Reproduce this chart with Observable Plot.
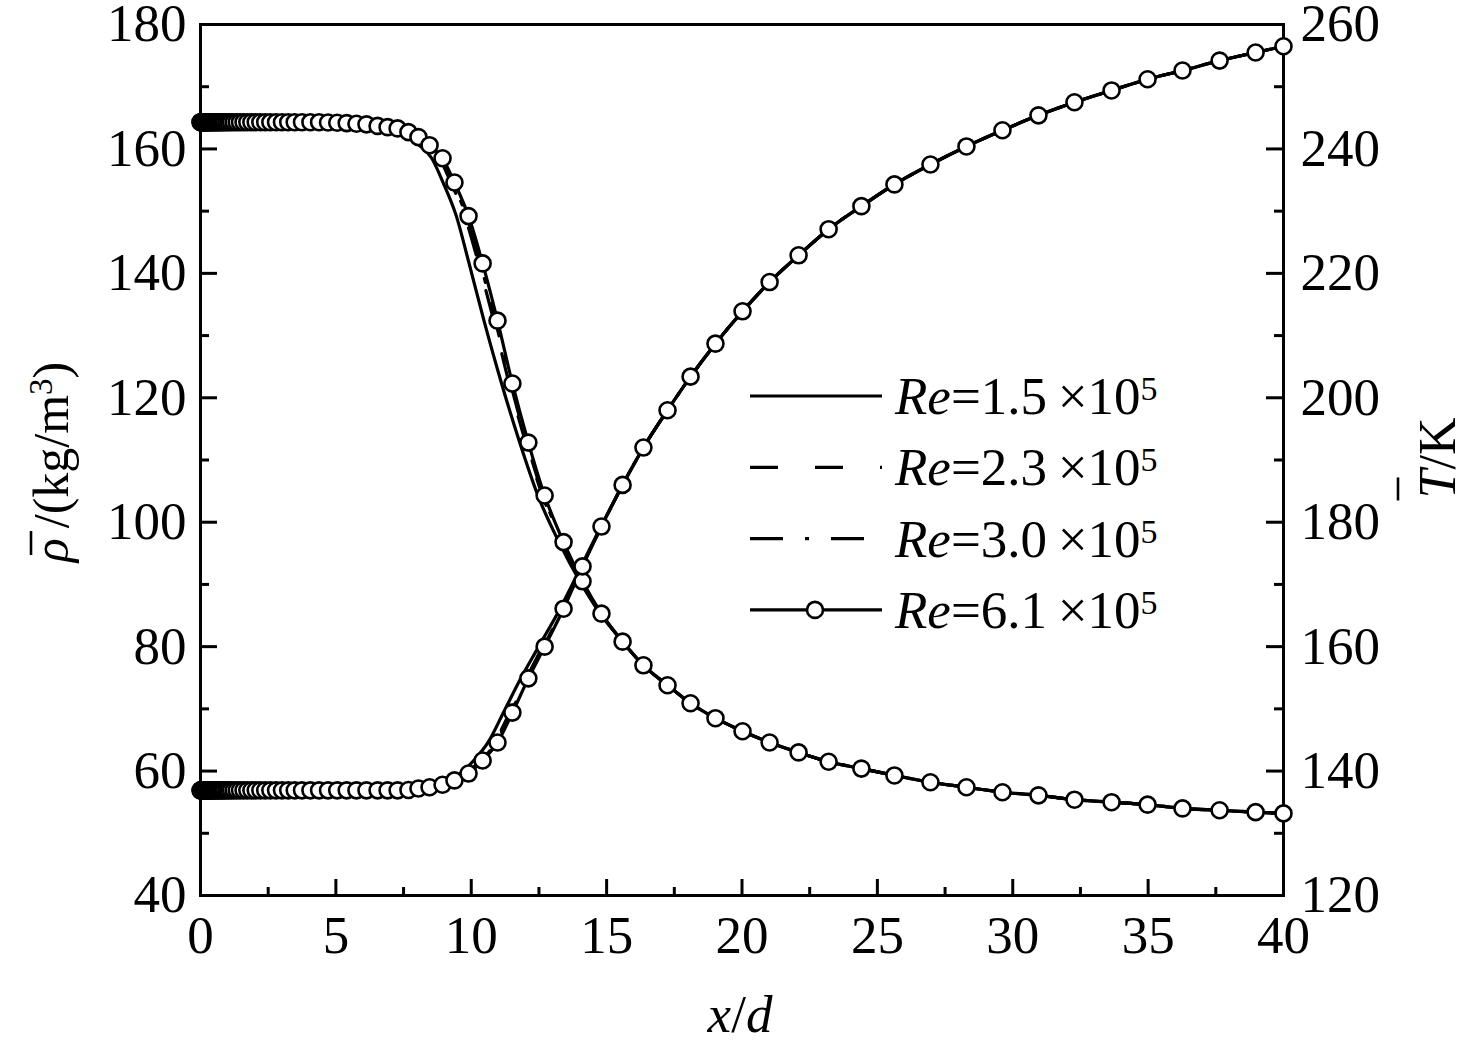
<!DOCTYPE html>
<html><head><meta charset="utf-8">
<script src="https://cdn.jsdelivr.net/npm/d3@7"></script>
<script src="https://cdn.jsdelivr.net/npm/@observablehq/plot@0.6"></script>
<style>html,body{margin:0;padding:0;background:#fff} #chart svg{display:block}</style>
</head><body><div id="chart"></div><script>
// ---------------- DATA ----------------
// Re = 6.1e5 : marker positions x/d, mean density (kg/m3) and mean temperature (K)
const markerX = [
  0, 0.01, 0.02, 0.03, 0.045, 0.06, 0.075, 0.09, 0.11, 0.13, 0.15, 0.17, 0.195, 0.22, 0.245, 0.27, 0.3, 0.33, 0.36, 0.395, 0.43, 0.47, 0.51, 0.555, 0.6, 0.65, 0.7, 0.76, 0.82,
  0.88, 0.96, 1.04, 1.13, 1.23, 1.34, 1.46, 1.59, 1.73, 1.88, 2.04, 2.21, 2.39, 2.58, 2.79, 3.01, 3.24, 3.48, 3.75, 4.06, 4.38, 4.71, 5.05, 5.4, 5.76,
  6.13, 6.54, 6.91, 7.28, 7.68, 8.05, 8.46, 8.94, 9.38, 9.90, 10.42, 10.97, 11.52, 12.11, 12.71, 13.41, 14.11, 14.81, 15.59, 16.36,
  17.25, 18.10, 19.02, 20.02, 21.02, 22.09, 23.20, 24.41, 25.63, 26.96, 28.29, 29.62, 30.95, 32.28, 33.65, 34.98, 36.27, 37.64, 38.97, 40
];
const rho61 = [
  164.3, 164.3, 164.3, 164.3, 164.3, 164.3, 164.3, 164.3, 164.3, 164.3, 164.3, 164.3, 164.3, 164.3, 164.3, 164.3, 164.3, 164.3, 164.3, 164.3, 164.3, 164.3, 164.3, 164.3, 164.3, 164.3, 164.3, 164.3, 164.3,
  164.3, 164.3, 164.3, 164.3, 164.3, 164.3, 164.3, 164.3, 164.3, 164.3, 164.3, 164.3, 164.3, 164.3, 164.3, 164.3, 164.3, 164.3, 164.3, 164.3, 164.3, 164.25, 164.2, 164.15, 164.05,
  163.95, 163.7, 163.5, 163.3, 162.7, 161.9, 160.6, 158.5, 154.6, 149.2, 141.6, 132.4, 122.3, 112.8, 104.3, 96.8, 90.5, 85.3, 80.8, 77.0,
  73.8, 70.9, 68.5, 66.4, 64.6, 63.0, 61.5, 60.4, 59.3, 58.2, 57.4, 56.6, 56.1, 55.4, 55.0, 54.6, 54.0, 53.7, 53.4, 53.2
];
const T61 = [
  136.9, 136.9, 136.9, 136.9, 136.9, 136.9, 136.9, 136.9, 136.9, 136.9, 136.9, 136.9, 136.9, 136.9, 136.9, 136.9, 136.9, 136.9, 136.9, 136.9, 136.9, 136.9, 136.9, 136.9, 136.9, 136.9, 136.9, 136.9, 136.9,
  136.9, 136.9, 136.9, 136.9, 136.9, 136.9, 136.9, 136.9, 136.9, 136.9, 136.9, 136.9, 136.9, 136.9, 136.9, 136.9, 136.9, 136.9, 136.9, 136.9, 136.9, 136.9, 136.9, 136.9, 136.9,
  136.9, 136.9, 136.9, 136.9, 136.95, 137.2, 137.4, 137.8, 138.5, 139.6, 141.7, 144.6, 149.4, 154.9, 160.0, 166.1, 172.9, 179.3, 186.0, 192.0,
  198.0, 203.4, 208.7, 213.9, 218.6, 222.9, 227.1, 230.8, 234.3, 237.5, 240.4, 243.0, 245.4, 247.5, 249.4, 251.2, 252.6, 254.2, 255.5, 256.5
];

// Other Reynolds numbers: curves sampled at common density / temperature levels
const rhoLevels = [164.3, 164.3, 164.2, 163.95, 163.7, 163.5, 163.3, 162.7, 161.9, 160.6, 158.5, 154.6, 149.2,
  141.6, 132.4, 122.3, 112.8, 104.3, 96.8, 90.5, 85.3];
const rhoX15 = [0, 4, 5.2, 5.98, 6.36, 6.69, 7.03, 7.38, 7.70, 8.08, 8.54, 8.96, 9.45, 9.92, 10.47, 11.12, 11.79, 12.46, 13.24, 14.01, 14.76];
const rhoX23 = [0, 4, 5.2, 6.08, 6.49, 6.85, 7.20, 7.59, 7.95, 8.35, 8.82, 9.25, 9.76, 10.27, 10.83, 11.40, 12.01, 12.63, 13.35, 14.07, 14.79];
const rhoX30 = [0, 4, 5.2, 6.10, 6.51, 6.88, 7.23, 7.63, 7.99, 8.39, 8.87, 9.30, 9.82, 10.33, 10.89, 11.45, 12.05, 12.66, 13.38, 14.09, 14.80];
const TLevels = [136.9, 136.9, 136.95, 137.2, 137.4, 137.8, 138.5, 139.6, 141.7, 144.6, 149.4, 154.9, 160.0, 166.1, 172.9, 179.3];
const TX15 = [0, 7.0, 7.48, 7.93, 8.31, 8.76, 9.16, 9.60, 10.09, 10.62, 11.19, 11.83, 12.49, 13.28, 14.06, 14.79];
const TX23 = [0, 7.2, 7.62, 8.02, 8.42, 8.89, 9.32, 9.81, 10.32, 10.86, 11.42, 12.03, 12.64, 13.37, 14.09, 14.80];
const TX30 = [0, 7.25, 7.65, 8.03, 8.44, 8.91, 9.34, 9.84, 10.36, 10.91, 11.46, 12.06, 12.67, 13.38, 14.10, 14.81];
// downstream part (x/d >= 15.59) where all Reynolds numbers coincide
const tailX   = [15.59, 16.36, 17.25, 18.10, 19.02, 20.02, 21.02, 22.09, 23.20, 24.41, 25.63, 26.96, 28.29, 29.62, 30.95, 32.28, 33.65, 34.98, 36.27, 37.64, 38.97, 40];
const tailRho = [80.8, 77.0, 73.8, 70.9, 68.5, 66.4, 64.6, 63.0, 61.5, 60.4, 59.3, 58.2, 57.4, 56.6, 56.1, 55.4, 55.0, 54.6, 54.0, 53.7, 53.4, 53.2];
const tailT   = [186.0, 192.0, 198.0, 203.4, 208.7, 213.9, 218.6, 222.9, 227.1, 230.8, 234.3, 237.5, 240.4, 243.0, 245.4, 247.5, 249.4, 251.2, 252.6, 254.2, 255.5, 256.5];

const reLabels = ["1.5", "2.3", "3.0", "6.1"];
const xMajor = [0, 5, 10, 15, 20, 25, 30, 35, 40];
const xMinor = [2.5, 7.5, 12.5, 17.5, 22.5, 27.5, 32.5, 37.5];
const yMajor = [40, 60, 80, 100, 120, 140, 160, 180];
const yMinor = [50, 70, 90, 110, 130, 150, 170];

// ---------------- LAYOUT ----------------
const FONT = '"Liberation Serif","Times New Roman",Times,serif';
const W = 1476, H = 1052, mL = 200, mR = 193, mT = 24, mB = 157;
const plotW = W - mL - mR, plotH = H - mT - mB;
const T_OFFSET = 80; // right axis: T (120–260 K) = left-axis value (40–180) + 80
const FS = 53;

function pts(xs, ys, shift = 0) { return xs.map((x, i) => ({x, y: ys[i] - shift})); }
const rho15 = pts(rhoX15.concat(tailX), rhoLevels.concat(tailRho));
const rho23 = pts(rhoX23.concat(tailX), rhoLevels.concat(tailRho));
const rho30 = pts(rhoX30.concat(tailX), rhoLevels.concat(tailRho));
const tem15 = pts(TX15.concat(tailX), TLevels.concat(tailT), T_OFFSET);
const tem23 = pts(TX23.concat(tailX), TLevels.concat(tailT), T_OFFSET);
const tem30 = pts(TX30.concat(tailX), TLevels.concat(tailT), T_OFFSET);
const rhoM = pts(markerX, rho61);
const temM = pts(markerX, T61, T_OFFSET);

const LW = 3.2;
const DASH = "28,37", DASHDOT = "33,22,4,22";
const lineOpt = (dash) => ({x: "x", y: "y", stroke: "black", strokeWidth: LW, curve: "monotone-x", strokeDasharray: dash});

const chart = Plot.plot({
  width: W, height: H, marginLeft: mL, marginRight: mR, marginTop: mT, marginBottom: mB,
  style: {fontFamily: FONT, fontSize: FS + "px", background: "white", color: "black", overflow: "visible"},
  x: {domain: [0, 40]},
  y: {domain: [40, 180]},
  marks: [
    Plot.frame({stroke: "black", strokeWidth: 3}),
    Plot.ruleX(xMajor, {x: d => d, insetTop: plotH - 16, strokeWidth: 3}),
    Plot.ruleX(xMinor, {x: d => d, insetTop: plotH - 8, strokeWidth: 3}),
    Plot.ruleY(yMajor, {y: d => d, insetRight: plotW - 17, strokeWidth: 3}),
    Plot.ruleY(yMinor, {y: d => d, insetRight: plotW - 9, strokeWidth: 3}),
    Plot.ruleY(yMajor, {y: d => d, insetLeft: plotW - 17, strokeWidth: 3}),
    Plot.ruleY(yMinor, {y: d => d, insetLeft: plotW - 9, strokeWidth: 3}),
    Plot.axisX({ticks: xMajor, tickSize: 0, tickPadding: 20, fontSize: FS, label: null}),
    Plot.axisY({anchor: "left", ticks: yMajor, tickSize: 0, tickPadding: 14, fontSize: FS, label: null}),
    Plot.axisY({anchor: "right", ticks: yMajor, tickFormat: d => String(d + T_OFFSET), tickSize: 0, tickPadding: 17, fontSize: FS, label: null}),
    Plot.line(rho15, lineOpt(null)),
    Plot.line(tem15, lineOpt(null)),
    Plot.line(rho23, lineOpt(DASH)),
    Plot.line(tem23, lineOpt(DASH)),
    Plot.line(rho30, lineOpt(DASHDOT)),
    Plot.line(tem30, lineOpt(DASHDOT)),
    Plot.line(rhoM, lineOpt(null)),
    Plot.line(temM, lineOpt(null)),
    Plot.dot(rhoM, {x: "x", y: "y", r: 8, fill: "white", stroke: "black", strokeWidth: 2.6}),
    Plot.dot(temM, {x: "x", y: "y", r: 8, fill: "white", stroke: "black", strokeWidth: 2.6})
  ]
});
document.getElementById("chart").appendChild(chart);

// ---------------- LABELS & LEGEND ----------------
const svg = d3.select(chart);

// x label
const xl = svg.append("text").attr("x", 740).attr("y", 1032).attr("text-anchor", "middle")
  .attr("font-size", FS).attr("font-family", FONT).attr("fill", "black");
xl.append("tspan").attr("font-style", "italic").text("x");
xl.append("tspan").text("/");
xl.append("tspan").attr("font-style", "italic").text("d");

// left label  ρ̄/(kg/m³)
const gl = svg.append("g").attr("transform", "translate(68,462) rotate(-90)");
const ltxt = gl.append("text").attr("text-anchor", "middle").attr("font-size", 50)
  .attr("font-family", FONT).attr("fill", "black");
ltxt.append("tspan").attr("font-style", "italic").text("ρ");
ltxt.append("tspan").attr("dx", 10).text("/(kg/m");
ltxt.append("tspan").attr("dy", -16).attr("font-size", 33).text("3");
ltxt.append("tspan").attr("dy", 16).text(")");
{
  const node = ltxt.node();
  const s = node.getStartPositionOfChar(0).x;
  const e = node.getEndPositionOfChar(0).x;
  const w = e - s;
  gl.append("line").attr("x1", s + 0.3 * w).attr("x2", s + 0.3 * w + 24).attr("y1", -37).attr("y2", -37)
    .attr("stroke", "black").attr("stroke-width", 2.6);
}

// right label  T̄/K
const gr = svg.append("g").attr("transform", "translate(1455,458) rotate(-90)");
const rtxt = gr.append("text").attr("text-anchor", "middle").attr("font-size", 52)
  .attr("font-family", FONT).attr("fill", "black");
rtxt.append("tspan").attr("font-style", "italic").text("T");
rtxt.append("tspan").text("/K");
{
  const node = rtxt.node();
  const s = node.getStartPositionOfChar(0).x;
  gr.append("line").attr("x1", s - 2).attr("x2", s + 21).attr("y1", -57).attr("y2", -57)
    .attr("stroke", "black").attr("stroke-width", 2.6);
}

// legend
const legendDash = [null, DASH, DASHDOT, null];
const leg = svg.append("g");
reLabels.forEach((lab, i) => {
  const y = 396 + i * 71.3;
  leg.append("line").attr("x1", 750).attr("x2", 882).attr("y1", y).attr("y2", y)
    .attr("stroke", "black").attr("stroke-width", LW)
    .attr("stroke-dasharray", legendDash[i]);
  if (i === 3) {
    leg.append("circle").attr("cx", 815).attr("cy", y).attr("r", 8)
      .attr("fill", "white").attr("stroke", "black").attr("stroke-width", 2.6);
  }
  const t = leg.append("text").attr("x", 895).attr("y", y + 18).attr("font-size", FS)
    .attr("text-anchor", "start").attr("font-family", FONT).attr("fill", "black");
  t.append("tspan").attr("font-style", "italic").text("Re");
  t.append("tspan").text("=" + lab + "\u2009×10");
  t.append("tspan").attr("dy", -14).attr("font-size", 34).text("5");
});
</script></body></html>
